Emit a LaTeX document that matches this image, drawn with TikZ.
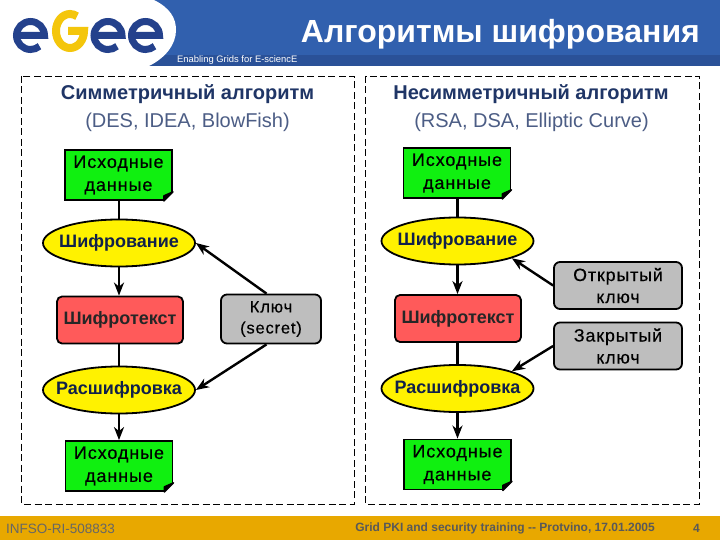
\documentclass[tikz,border=0pt]{standalone}
\usepackage{fontspec}
\setmainfont{Liberation Sans}
\newfontfamily\medfont[FakeBold=0.35,LetterSpace=5]{Liberation Sans}
\usetikzlibrary{arrows.meta,shapes.geometric,calc}
\definecolor{hdrblue}{HTML}{3160AE}
\definecolor{hdrdark}{HTML}{2A5198}
\definecolor{gold}{HTML}{E8A800}
\definecolor{navy}{HTML}{1F3566}
\definecolor{ovaltext}{HTML}{10204A}
\definecolor{logoblue}{HTML}{24418C}
\definecolor{logoyel}{HTML}{F4C60C}
\definecolor{notegreen}{HTML}{10F010}
\definecolor{cipherred}{HTML}{FF5A5A}
\definecolor{keygray}{HTML}{BEBEBE}
\tikzset{
 x=1pt,y=-1pt,
 note/.style={draw=black,line width=1.8pt,fill=notegreen,minimum width=107pt,minimum height=50pt,align=center,inner sep=0pt,font=\medfont\fontsize{18}{23}\selectfont,text=black},
 oval/.style={ellipse,draw=black,line width=1.8pt,fill=yellow,minimum width=152pt,minimum height=47pt,inner xsep=-12pt,inner ysep=0pt,font=\bfseries\fontsize{18}{18}\selectfont,text=ovaltext},
 cipher/.style={rectangle,rounded corners=5pt,draw=black,line width=1.8pt,fill=cipherred,minimum width=126pt,minimum height=47pt,inner sep=0pt,font=\bfseries\fontsize{18}{18}\selectfont,text=black!85},
 keybox/.style={rectangle,rounded corners=6pt,draw=black,line width=1.8pt,fill=keygray,minimum width=128pt,minimum height=47pt,inner sep=0pt,align=center,font=\medfont\fontsize{17.8}{22}\selectfont,text=black},
 panel/.style={draw=black,line width=0.8pt,dash pattern=on 7pt off 3.5pt},
 plain/.style={draw=black,line width=2.4pt},
 arr/.style={draw=black,line width=2.4pt,-{Stealth[length=13pt,width=10pt,inset=4pt]}},
 heading/.style={font=\bfseries\fontsize{20}{22}\selectfont,text=navy},
 sub/.style={font=\fontsize{20}{22}\selectfont,text=navy!80},
 logoe/.style={line width=7pt,line cap=butt,logoblue},
}
\newcommand{\fold}[1]{%
 \fill[white] ($(#1.south east)+(1,1)$) -- ($(#1.south east)+(-10,1)$) -- ($(#1.south east)+(1,-10)$) -- cycle;
 \draw[black,line width=1.6pt,line join=round,fill=black] ($(#1.south east)+(-9,0)$) -- ($(#1.south east)+(0,-9)$) -- ($(#1.south east)+(-9,-5)$) -- cycle;
}
\newcommand{\logoE}[1]{%
 \draw[logoe] (#1-14,35.5) -- (#1+14,35.5) arc[start angle=0,end angle=-310,x radius=14,y radius=14];
}
\begin{document}
\begin{tikzpicture}
\useasboundingbox (0,0) rectangle (720,540);
\fill[white] (0,0) rectangle (720,540);
% header
\fill[hdrblue] (140,0) rectangle (720,55);
\fill[hdrdark] (140,55) rectangle (720,66);
\fill[white] (154,0) .. controls (170,8) and (176,18) .. (176,30) .. controls (176,45) and (165,58) .. (149,66) -- (0,66) -- (0,0) -- cycle;
% logo
\logoE{30.5}
\logoE{108}
\logoE{145.5}
\draw[logoyel,line width=8pt] (68,31) -- (84,31) arc[start angle=0,end angle=300,x radius=14,y radius=17];
% header text
\node[anchor=west,inner sep=0pt,font=\fontsize{9.4}{10}\selectfont,text=white] (tag) at (177,60.5) {Enabling Grids for E-sciencE};
\node[anchor=east,inner sep=0pt,font=\bfseries\fontsize{32}{34}\selectfont,text=white] (title) at (700,34) {Алгоритмы шифрования};
% panels
\draw[panel] (21.5,76) rectangle (354,504);
\draw[panel] (365.5,76) rectangle (699,504);
% headings
\node[heading] (h1) at (187.5,94) {Симметричный алгоритм};
\node[sub] (s1) at (187.5,122) {(DES, IDEA, BlowFish)};
\node[heading] (h2) at (531,94) {Несимметричный алгоритм};
\node[sub] (s2) at (531.5,122) {(RSA, DSA, Elliptic Curve)};
% left column
\node[note] (ln1) at (118.5,175) {Исходные\\данные};
\node[oval] (le) at (119,243) {Шифрование};
\node[cipher] (lc) at (120,320) {Шифротекст};
\node[oval] (ld) at (119,390) {Расшифровка};
\node[note] (ln2) at (119,466) {Исходные\\данные};
\node[keybox,minimum width=100pt,minimum height=49pt,font=\medfont\fontsize{16.5}{21}\selectfont] (lk) at (271,319) {Ключ\\(secret)};
% right column
\node[note] (rn1) at (457,173) {Исходные\\данные};
\node[oval] (re) at (457.5,241) {Шифрование};
\node[cipher] (rc) at (458,318.5) {Шифротекст};
\node[oval] (rd) at (457.5,388.5) {Расшифровка};
\node[note] (rn2) at (457.5,464.5) {Исходные\\данные};
\node[keybox] (ko) at (618,285.5) {Открытый\\ключ};
\node[keybox] (kc) at (618,346) {Закрытый\\ключ};
\fold{ln1}\fold{ln2}\fold{rn1}\fold{rn2}
% connectors
\draw[plain] (ln1.south -| le.north) -- (le.north);
\draw[arr] (le.south) -- (le.south |- lc.north);
\draw[plain] (lc.south -| ld.north) -- (ld.north);
\draw[arr] (ld.south) -- (ld.south |- ln2.north);
\draw[arr] (lk.100) -- (le.east);
\draw[arr] (lk.260) -- (ld.east);
\draw[plain] (rn1.south -| re.north) -- (re.north);
\draw[arr] (re.south) -- (re.south |- rc.north);
\draw[plain] (rc.south -| rd.north) -- (rd.north);
\draw[arr] (rd.south) -- (rd.south |- rn2.north);
\draw[arr] (ko.west) -- (re.south east);
\draw[arr] (kc.west) -- (rd.north east);
% footer
\fill[gold] (0,516) rectangle (720,540);
\node[anchor=west,inner sep=0pt,font=\fontsize{13.5}{15}\selectfont,text=black!60] (f1) at (6,529) {INFSO-RI-508833};
\node[anchor=east,inner sep=0pt,font=\bfseries\fontsize{12}{15}\selectfont,text=black!65] (f2) at (655,528) {Grid PKI and security training -{}- Protvino, 17.01.2005};
\node[anchor=east,inner sep=0pt,font=\bfseries\fontsize{12}{15}\selectfont,text=black!65] (f3) at (700,528) {4};
\end{tikzpicture}
\end{document}
